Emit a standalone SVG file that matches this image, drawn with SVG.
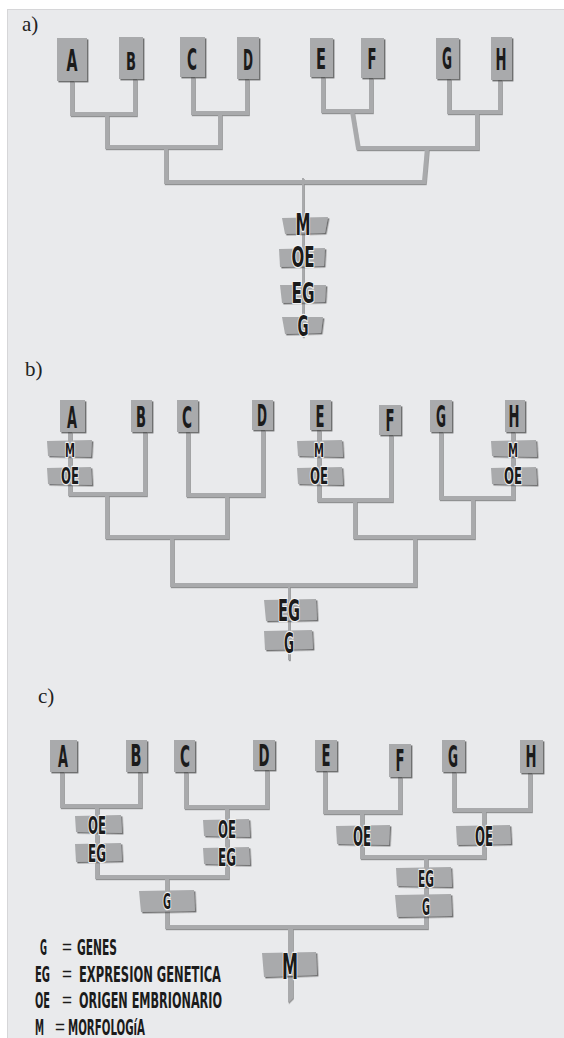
<svg xmlns="http://www.w3.org/2000/svg" width="564" height="1038" viewBox="0 0 564 1038">
<defs>
<filter id="ds" x="-20%" y="-20%" width="140%" height="140%">
<feDropShadow dx="1.4" dy="1.4" stdDeviation="0.6" flood-color="#3a3a3a" flood-opacity="0.7"/>
</filter>
<filter id="ls" x="-5%" y="-5%" width="110%" height="110%">
<feDropShadow dx="0.8" dy="1.2" stdDeviation="0.4" flood-color="#555" flood-opacity="0.6"/>
</filter>
<style>
.bg{fill:#e9eaec;stroke:#d6d6d8;stroke-width:1}
.leaf{fill:#a9aaac;filter:url(#ds)}
.lab{fill:#a9aaac;filter:url(#ds)}
.ln{fill:none;stroke:#a9aaac;stroke-width:4;stroke-linecap:butt;stroke-linejoin:miter}
.thin{stroke-width:2}
.lt{font-family:"DejaVu Sans","Liberation Sans",sans-serif;font-weight:bold;font-stretch:condensed;fill:#1b1b1b;text-anchor:middle}
.ht{font-family:"DejaVu Sans","Liberation Sans",sans-serif;font-weight:bold;font-stretch:condensed;fill:#1b1b1b;text-anchor:middle;stroke:#f2f2f2;stroke-width:2.5;paint-order:stroke;stroke-linejoin:round}
.sec{font-family:"Liberation Serif",serif;font-size:21px;fill:#222}
.lg{font-family:"DejaVu Sans","Liberation Sans",sans-serif;font-weight:bold;font-stretch:condensed;font-size:15px;fill:#1b1b1b}
.eq{font-family:"Liberation Sans",sans-serif;font-size:20px;fill:#1b1b1b}
</style>
</defs>
<rect class="bg" x="7.5" y="9.5" width="560" height="1032"/>

<text class="sec" x="22" y="31">a)</text>
<text class="sec" x="25" y="376">b)</text>
<text class="sec" x="38" y="703">c)</text>

<g id="connectors" filter="url(#ls)">
<!-- a -->
<path class="ln" d="M72,81 V114 H135 V79"/>
<path class="ln" d="M107,114 V147 H220 V114"/>
<path class="ln" d="M193,77 V113 H247 V79"/>
<path class="ln" d="M166,147 V182 H424 L427,148"/>
<path class="ln" d="M323,77 V111 H371 V78"/>
<path class="ln" d="M352,111 L358,148 H477 V112"/>
<path class="ln" d="M449,79 V112 H500 V80"/>
<path class="ln thin" d="M303,178 V337"/>
<!-- b -->
<path class="ln" d="M70,432 V494 H145 V432"/>
<path class="ln" d="M107,494 V537 H227 V496"/>
<path class="ln" d="M188,432 V495 H263 V430"/>
<path class="ln" d="M172,537 V585 H415 V537"/>
<path class="ln" d="M319,430 V500 H391 V435"/>
<path class="ln" d="M355,499 V537 H473 V498"/>
<path class="ln" d="M441,432 V498 H513 V432"/>
<path class="ln thin" d="M289,585 V660"/>
<!-- c -->
<path class="ln" d="M62,772 V806 H140 V772"/>
<path class="ln" d="M97,806 V877 H227 V806"/>
<path class="ln" d="M186,772 V807 H267 V770"/>
<path class="ln" d="M167,877 V927 H426 V857"/>
<path class="ln" d="M325,771 V812 H400 V777"/>
<path class="ln" d="M362,812 V857 H484 V810"/>
<path class="ln" d="M454,772 V810 H530 V773"/>
<path fill="#a9aaac" d="M288,927 H293 V998 L288,1003 Z"/>
</g>

<!-- section a leaves -->
<g id="a-A"><rect class="leaf" x="57" y="38" width="30" height="43"/><text class="lt" x="72" y="71" font-size="31" textLength="11" lengthAdjust="spacingAndGlyphs">A</text></g>
<g id="a-B"><rect class="leaf" x="119" y="37" width="24" height="42"/><text class="lt" x="131" y="70" font-size="25" textLength="10" lengthAdjust="spacingAndGlyphs">B</text></g>
<g id="a-C"><rect class="leaf" x="180" y="37" width="25" height="40"/><text class="lt" x="192" y="70" font-size="30" textLength="10" lengthAdjust="spacingAndGlyphs">C</text></g>
<g id="a-D"><rect class="leaf" x="237" y="37" width="22" height="42"/><text class="lt" x="248" y="70" font-size="29" textLength="10" lengthAdjust="spacingAndGlyphs">D</text></g>
<g id="a-E"><rect class="leaf" x="310" y="38" width="23" height="39"/><text class="lt" x="321" y="69" font-size="29" textLength="10" lengthAdjust="spacingAndGlyphs">E</text></g>
<g id="a-F"><rect class="leaf" x="361" y="38" width="23" height="40"/><text class="lt" x="372" y="69" font-size="29" textLength="9" lengthAdjust="spacingAndGlyphs">F</text></g>
<g id="a-G"><rect class="leaf" x="436" y="38" width="23" height="41"/><text class="lt" x="447" y="69" font-size="30" textLength="10" lengthAdjust="spacingAndGlyphs">G</text></g>
<g id="a-H"><rect class="leaf" x="491" y="37" width="21" height="43"/><text class="lt" x="501" y="70" font-size="30" textLength="11" lengthAdjust="spacingAndGlyphs">H</text></g>

<!-- section a root labels -->
<g id="a-M"><polygon class="lab" points="282,218 328,217 325,233 285,234"/><text class="ht" x="303" y="235" font-size="31" textLength="15" lengthAdjust="spacingAndGlyphs">M</text></g>
<g id="a-OE"><polygon class="lab" points="279,249 325,248 324,266 280,267"/><text class="ht" x="303" y="267" font-size="28" textLength="23" lengthAdjust="spacingAndGlyphs">OE</text></g>
<g id="a-EG"><polygon class="lab" points="280,285 326,285 325,302 282,303"/><text class="ht" x="303" y="303" font-size="28" textLength="23" lengthAdjust="spacingAndGlyphs">EG</text></g>
<g id="a-G2"><polygon class="lab" points="282,317 323,317 321,333 285,334"/><text class="ht" x="303" y="336" font-size="29" textLength="11" lengthAdjust="spacingAndGlyphs">G</text></g>

<!-- section b leaves -->
<g id="b-A"><rect class="leaf" x="60" y="400" width="25" height="32"/><text class="lt" x="72" y="428" font-size="31" textLength="10" lengthAdjust="spacingAndGlyphs">A</text></g>
<g id="b-B"><rect class="leaf" x="131" y="400" width="21" height="32"/><text class="lt" x="141" y="427" font-size="28" textLength="10" lengthAdjust="spacingAndGlyphs">B</text></g>
<g id="b-C"><rect class="leaf" x="177" y="400" width="21" height="32"/><text class="lt" x="187" y="428" font-size="31" textLength="10" lengthAdjust="spacingAndGlyphs">C</text></g>
<g id="b-D"><rect class="leaf" x="252" y="400" width="21" height="30"/><text class="lt" x="262" y="426" font-size="30" textLength="10" lengthAdjust="spacingAndGlyphs">D</text></g>
<g id="b-E"><rect class="leaf" x="310" y="400" width="21" height="30"/><text class="lt" x="320" y="427" font-size="30" textLength="9" lengthAdjust="spacingAndGlyphs">E</text></g>
<g id="b-F"><rect class="leaf" x="379" y="405" width="22" height="30"/><text class="lt" x="390" y="431" font-size="30" textLength="9" lengthAdjust="spacingAndGlyphs">F</text></g>
<g id="b-G"><rect class="leaf" x="430" y="400" width="22" height="32"/><text class="lt" x="441" y="427" font-size="31" textLength="10" lengthAdjust="spacingAndGlyphs">G</text></g>
<g id="b-H"><rect class="leaf" x="505" y="400" width="20" height="32"/><text class="lt" x="514" y="427" font-size="31" textLength="11" lengthAdjust="spacingAndGlyphs">H</text></g>

<!-- section b character labels -->
<g id="b-A-M"><polygon class="lab" points="47,441 92,440 91,457 48,456"/><text class="ht" x="70" y="457" font-size="20" textLength="10" lengthAdjust="spacingAndGlyphs">M</text></g>
<g id="b-A-OE"><polygon class="lab" points="47,468 91,467 92,485 48,484"/><text class="ht" x="70" y="484" font-size="23" textLength="18" lengthAdjust="spacingAndGlyphs">OE</text></g>
<g id="b-E-M"><polygon class="lab" points="297,441 342,440 343,457 298,456"/><text class="ht" x="319" y="457" font-size="20" textLength="10" lengthAdjust="spacingAndGlyphs">M</text></g>
<g id="b-E-OE"><polygon class="lab" points="297,468 342,467 343,485 298,484"/><text class="ht" x="319" y="484" font-size="23" textLength="18" lengthAdjust="spacingAndGlyphs">OE</text></g>
<g id="b-H-M"><polygon class="lab" points="491,441 536,440 537,457 492,456"/><text class="ht" x="513" y="457" font-size="20" textLength="10" lengthAdjust="spacingAndGlyphs">M</text></g>
<g id="b-H-OE"><polygon class="lab" points="491,468 536,467 537,485 492,484"/><text class="ht" x="513" y="484" font-size="23" textLength="18" lengthAdjust="spacingAndGlyphs">OE</text></g>
<g id="b-EG"><polygon class="lab" points="264,600 316,599 317,620 266,621"/><text class="ht" x="289" y="621" font-size="31" textLength="22" lengthAdjust="spacingAndGlyphs">EG</text></g>
<g id="b-G2"><polygon class="lab" points="264,631 312,630 313,649 265,650"/><text class="ht" x="289" y="653" font-size="28" textLength="10" lengthAdjust="spacingAndGlyphs">G</text></g>

<!-- section c leaves -->
<g id="c-A"><rect class="leaf" x="50" y="740" width="27" height="32"/><text class="lt" x="63" y="767" font-size="31" textLength="10" lengthAdjust="spacingAndGlyphs">A</text></g>
<g id="c-B"><rect class="leaf" x="126" y="740" width="21" height="32"/><text class="lt" x="136" y="766" font-size="30" textLength="11" lengthAdjust="spacingAndGlyphs">B</text></g>
<g id="c-C"><rect class="leaf" x="174" y="740" width="21" height="32"/><text class="lt" x="185" y="767" font-size="31" textLength="10" lengthAdjust="spacingAndGlyphs">C</text></g>
<g id="c-D"><rect class="leaf" x="253" y="740" width="22" height="30"/><text class="lt" x="264" y="766" font-size="31" textLength="11" lengthAdjust="spacingAndGlyphs">D</text></g>
<g id="c-E"><rect class="leaf" x="315" y="740" width="22" height="31"/><text class="lt" x="326" y="766" font-size="31" textLength="9" lengthAdjust="spacingAndGlyphs">E</text></g>
<g id="c-F"><rect class="leaf" x="389" y="744" width="22" height="33"/><text class="lt" x="400" y="771" font-size="31" textLength="9" lengthAdjust="spacingAndGlyphs">F</text></g>
<g id="c-G"><rect class="leaf" x="442" y="740" width="23" height="32"/><text class="lt" x="453" y="767" font-size="31" textLength="10" lengthAdjust="spacingAndGlyphs">G</text></g>
<g id="c-H"><rect class="leaf" x="520" y="740" width="23" height="33"/><text class="lt" x="531" y="767" font-size="31" textLength="11" lengthAdjust="spacingAndGlyphs">H</text></g>

<!-- section c character labels -->
<g id="c-AB-OE"><polygon class="lab" points="75,816 121,815 122,833 76,832"/><text class="ht" x="97" y="834" font-size="24" textLength="18" lengthAdjust="spacingAndGlyphs">OE</text></g>
<g id="c-AB-EG"><polygon class="lab" points="75,844 121,843 122,861 76,862"/><text class="ht" x="97" y="862" font-size="24" textLength="18" lengthAdjust="spacingAndGlyphs">EG</text></g>
<g id="c-CD-OE"><polygon class="lab" points="203,820 249,819 250,837 204,836"/><text class="ht" x="227" y="838" font-size="24" textLength="18" lengthAdjust="spacingAndGlyphs">OE</text></g>
<g id="c-CD-EG"><polygon class="lab" points="203,848 249,847 250,865 204,864"/><text class="ht" x="227" y="866" font-size="24" textLength="18" lengthAdjust="spacingAndGlyphs">EG</text></g>
<g id="c-EF-OE"><polygon class="lab" points="336,826 390,825 389,845 337,844"/><text class="ht" x="362" y="846" font-size="26" textLength="18" lengthAdjust="spacingAndGlyphs">OE</text></g>
<g id="c-GH-OE"><polygon class="lab" points="456,826 510,825 511,844 457,845"/><text class="ht" x="484" y="846" font-size="26" textLength="18" lengthAdjust="spacingAndGlyphs">OE</text></g>
<g id="c-EFGH-EG"><polygon class="lab" points="396,868 451,867 452,887 397,886"/><text class="ht" x="426" y="887" font-size="23" textLength="16" lengthAdjust="spacingAndGlyphs">EG</text></g>
<g id="c-EFGH-G"><polygon class="lab" points="395,895 451,894 452,916 397,917"/><text class="ht" x="426" y="915" font-size="23" textLength="8" lengthAdjust="spacingAndGlyphs">G</text></g>
<g id="c-ABCD-G"><polygon class="lab" points="139,891 194,890 195,911 141,912"/><text class="ht" x="167" y="909" font-size="22" textLength="8" lengthAdjust="spacingAndGlyphs">G</text></g>
<g id="c-M"><polygon class="lab" points="262,953 316,952 317,975 264,977"/><text class="ht" x="290" y="979" font-size="35" textLength="16" lengthAdjust="spacingAndGlyphs">M</text></g>

<!-- legend -->
<g id="legend">
<text class="lg" transform="translate(0,955) scale(1,1.45)"><tspan x="40" y="0" textLength="7" lengthAdjust="spacingAndGlyphs">G</tspan><tspan x="77" y="0" textLength="40" lengthAdjust="spacingAndGlyphs">GENES</tspan></text>
<text class="eq" x="62" y="954" textLength="10" lengthAdjust="spacingAndGlyphs">=</text>
<text class="lg" transform="translate(0,982) scale(1,1.45)"><tspan x="35" y="0" textLength="15" lengthAdjust="spacingAndGlyphs">EG</tspan><tspan x="79" y="0" textLength="142" lengthAdjust="spacingAndGlyphs">EXPRESION GENETICA</tspan></text>
<text class="eq" x="62" y="981" textLength="10" lengthAdjust="spacingAndGlyphs">=</text>
<text class="lg" transform="translate(0,1008) scale(1,1.45)"><tspan x="35" y="0" textLength="15" lengthAdjust="spacingAndGlyphs">OE</tspan><tspan x="79" y="0" textLength="143" lengthAdjust="spacingAndGlyphs">ORIGEN EMBRIONARIO</tspan></text>
<text class="eq" x="62" y="1007" textLength="10" lengthAdjust="spacingAndGlyphs">=</text>
<text class="lg" transform="translate(0,1035) scale(1,1.45)"><tspan x="35" y="0" textLength="9" lengthAdjust="spacingAndGlyphs">M</tspan><tspan x="68" y="0" textLength="77" lengthAdjust="spacingAndGlyphs">MORFOLOGíA</tspan></text>
<text class="eq" x="55" y="1034" textLength="10" lengthAdjust="spacingAndGlyphs">=</text>
</g>
</svg>
